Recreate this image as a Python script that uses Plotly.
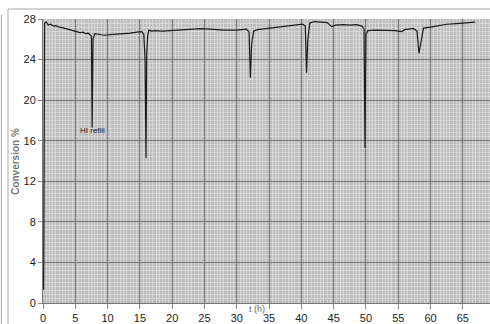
import plotly.graph_objects as go

# time (h)
t = [0.1, 0.25, 0.5, 0.8, 1.2, 1.6, 2.0, 2.5, 3.0, 3.7, 4.5, 5.2, 5.7, 6.2, 6.6, 7.0, 7.3, 7.5,
     7.6, 7.75, 8.0, 8.5, 9.5, 10.5, 12, 13.5, 14.5, 15.3, 15.6, 15.8, 15.95, 16.05, 16.2, 16.4,
     16.8, 17.3, 18.5, 20, 22, 24.3, 26, 28, 30, 31.5, 31.9, 32.1, 32.3, 32.6, 33.2, 35, 37, 39,
     40.2, 40.6, 40.8, 41.0, 41.3, 42.0, 43, 44, 44.7, 45.3, 46.5, 47.5, 48.5, 49.4, 49.7, 49.85,
     50.0, 50.3, 51.5, 53, 54.5, 55.5, 56, 57.3, 57.9, 58.2, 58.45, 58.9, 60, 61.5, 62.5, 64,
     65.5, 66.9]
# conversion %
conv = [1.3, 27.6, 27.7, 27.4, 27.5, 27.3, 27.35, 27.2, 27.15, 27.0, 26.9, 26.75, 26.65, 26.7,
        26.55, 26.6, 26.45, 26.3, 17.3, 26.0, 26.55, 26.5, 26.4, 26.45, 26.5, 26.6, 26.7, 26.75,
        26.5, 24.0, 14.3, 24.5, 26.3, 26.9, 26.8, 26.85, 26.8, 26.85, 26.95, 27.05, 27.0, 26.9,
        26.9, 27.0, 26.7, 22.2, 25.5, 26.8, 26.95, 27.1, 27.25, 27.4, 27.5, 27.3, 22.7, 26.0,
        27.6, 27.75, 27.7, 27.65, 27.25, 27.4, 27.45, 27.4, 27.45, 27.3, 27.0, 15.3, 26.5,
        26.85, 26.9, 26.9, 26.85, 26.75, 26.95, 27.08, 26.8, 24.6, 25.6, 27.1, 27.2, 27.35,
        27.48, 27.55, 27.6, 27.7]

x_ticks = list(range(0, 70, 5))
y_ticks = list(range(0, 29, 4))

fig = go.Figure()
fig.add_trace(go.Scatter(x=t, y=conv, mode="lines",
                         line=dict(color="#1a1a1a", width=1.2), showlegend=False))

FONT = "Liberation Sans, Arial, sans-serif"

fig.update_layout(
    width=490, height=324,
    margin=dict(l=43, r=0, t=19, b=21),
    paper_bgcolor="white",
    plot_bgcolor="#bdbdbd",
    font=dict(family=FONT, size=11, color="#222"),
    xaxis=dict(range=[0, 69.2], tickvals=x_ticks, ticks="outside", ticklen=5,
               tickcolor="#888", showline=True, linecolor="#777", linewidth=1,
               showgrid=True, gridcolor="#7a7a7a", gridwidth=1, zeroline=False,
               minor=dict(dtick=0.5, showgrid=True, gridcolor="#d6d6d6", gridwidth=1),
               tickfont=dict(size=11, color="#222")),
    yaxis=dict(range=[0, 28], tickvals=y_ticks, ticks="outside", ticklen=4,
               tickcolor="#888", showline=True, linecolor="#777", linewidth=1,
               showgrid=True, gridcolor="#7a7a7a", gridwidth=1, zeroline=False,
               minor=dict(dtick=0.4, showgrid=True, gridcolor="#d6d6d6", gridwidth=1),
               tickfont=dict(size=11, color="#222")),
    annotations=[
        dict(text="t (h)", xref="paper", yref="paper", x=0.479, y=0, yshift=-6,
             showarrow=False, xanchor="center", yanchor="middle",
             font=dict(size=9, color="#666", family=FONT)),
        dict(text="<b>Conversion %</b>", xref="paper", yref="paper", x=-0.063, y=0.5,
             textangle=-90, showarrow=False, xanchor="center", yanchor="middle",
             font=dict(size=10, color="#777", family=FONT)),
        dict(text="HI refill", xref="x", yref="y", x=7.6, y=17.6,
             showarrow=False, xanchor="center", yanchor="top",
             font=dict(size=8, color="#222", family=FONT)),
    ],
    shapes=[
        dict(type="line", xref="paper", yref="paper", x0=-0.0783, x1=1.0, y0=1.0352, y1=1.0352,
             line=dict(color="#a8a8a8", width=1)),
        dict(type="line", xref="paper", yref="paper", x0=-0.0783, x1=-0.0783, y0=1.0352, y1=-0.08,
             line=dict(color="#a8a8a8", width=1)),
        dict(type="line", xref="paper", yref="paper", x0=-0.093, x1=-0.093, y0=1.014, y1=-0.08,
             line=dict(color="#a8a8a8", width=1)),
    ],
)

fig.write_html("out.html")
